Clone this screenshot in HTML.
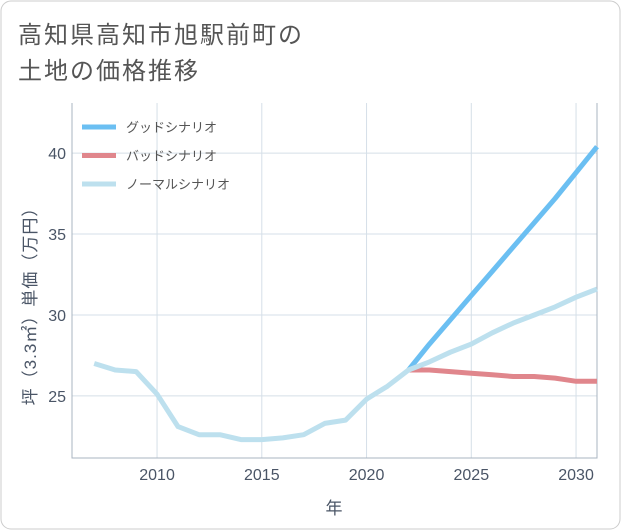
<!DOCTYPE html>
<html><head><meta charset="utf-8"><style>
body{margin:0;background:#fff;}
svg{display:block;font-family:"Liberation Sans","Noto Sans CJK JP",sans-serif;}
</style></head><body>
<svg width="621" height="530">
<rect x="1" y="1" width="619" height="528" rx="10" fill="#fff" stroke="#ccc"/>
<text x="18" y="43" font-size="24" letter-spacing="2" fill="#555">高知県高知市旭駅前町の</text>
<text x="18" y="79" font-size="24" letter-spacing="2" fill="#555">土地の価格推移</text>
<g id="grid"></g>
<g id="axes"></g>
<g id="series"></g>
<text x="334" y="514" font-size="17" fill="#4a5566" text-anchor="middle">年</text>
<text transform="translate(36,302) rotate(-90)" font-size="17" letter-spacing="1" fill="#4a5566" text-anchor="middle">坪（3.3㎡）単価（万円）</text>
<g id="legend"></g>
</svg>
<script>
const years=[2007,2008,2009,2010,2011,2012,2013,2014,2015,2016,2017,2018,2019,2020,2021,2022,2023,2024,2025,2026,2027,2028,2029,2030,2031];
const normalVals=[27.0,26.6,26.5,25.1,23.1,22.6,22.6,22.3,22.3,22.4,22.6,23.3,23.5,24.8,25.6,26.6,27.1,27.7,28.2,28.9,29.5,30.0,30.5,31.1,31.6];
const futureYears=[2022,2023,2024,2025,2026,2027,2028,2029,2030,2031];
const goodVals=[26.6,28.2,29.7,31.2,32.7,34.2,35.7,37.2,38.8,40.4];
const badVals=[26.6,26.6,26.5,26.4,26.3,26.2,26.2,26.1,25.9,25.9];
const xTicks=[2010,2015,2020,2025,2030];
const yTicks=[25,30,35,40];
const legendLabels=["グッドシナリオ","バッドシナリオ","ノーマルシナリオ"];
const legendColors=["#6bbff2","#e0868c","#bde0ee"];

const L=72,R=597,T=103,B=458,x0=2005.94,x1=2031,y0=21.16,y1=43.1;
const X=v=>L+(v-x0)/(x1-x0)*(R-L);
const Y=v=>B-(v-y0)/(y1-y0)*(B-T);
const NS="http://www.w3.org/2000/svg";
function mk(tag,attrs,parent){const e=document.createElementNS(NS,tag);for(const k in attrs)e.setAttribute(k,attrs[k]);parent.appendChild(e);return e;}
const grid=document.getElementById('grid'),axes=document.getElementById('axes'),series=document.getElementById('series'),legend=document.getElementById('legend');
xTicks.forEach(t=>{
 const l=mk('line',{x1:X(t),x2:X(t),y1:T,y2:B,stroke:'#d5dfe8','stroke-width':1},grid);
 
 
 const tx=mk('text',{x:X(t),y:B+22,'font-size':16,fill:'#4a5566','text-anchor':'middle'},axes);
 tx.textContent=t;
 
 
});
yTicks.forEach(t=>{
 const l=mk('line',{x1:L,x2:R,y1:Y(t),y2:Y(t),stroke:'#d5dfe8','stroke-width':1},grid);
 
 
 const tx=mk('text',{x:L-6,y:Y(t)+6,'font-size':16,fill:'#4a5566','text-anchor':'end'},axes);
 tx.textContent=t;
 
 
});
const ax=mk('path',{d:`M${L},${T}V${B}H${R}V${T}`,fill:'none',stroke:'#aab4c0','stroke-width':1},axes);


function line(xs,vs,color,name){
 const d=xs.map((x,i)=>(i?'L':'M')+X(x).toFixed(1)+','+Y(vs[i]).toFixed(1)).join('');
 const p=mk('path',{d:d,fill:'none',stroke:color,'stroke-width':5,'stroke-linejoin':'round'},series);
 
 
}
line(futureYears,badVals,legendColors[1],'bad-scenario-line');
line(futureYears,goodVals,legendColors[0],'good-scenario-line');
line(years,normalVals,legendColors[2],'normal-scenario-line');
legendLabels.forEach((lab,i)=>{
 const y=127+i*28.5;
 const l=mk('line',{x1:82,x2:116,y1:y,y2:y,stroke:legendColors[i],'stroke-width':5},legend);
 
 
 const t=mk('text',{x:126,y:y+5,'font-size':13,fill:'#555'},legend);
 t.textContent=lab;
 
 
});
</script>
</body></html>
